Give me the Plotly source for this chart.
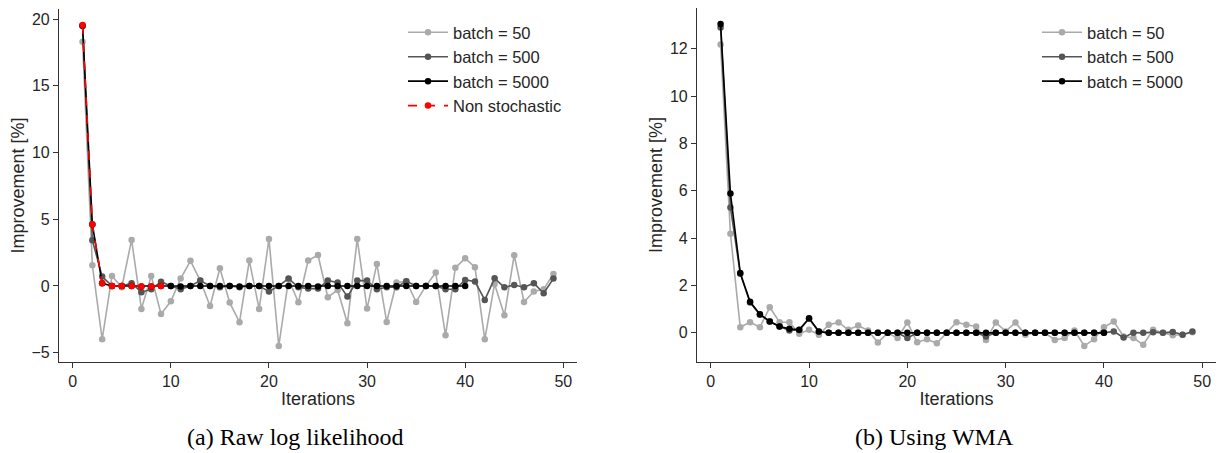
import plotly.graph_objects as go

# iterations
it_49 = list(range(1, 50))
it_40 = list(range(1, 41))
it_9 = list(range(1, 10))

# (a) raw log likelihood improvement [%]
raw_b50 = [18.3, 1.55, -4.0, 0.75, -0.1, 3.45, -1.72, 0.75, -2.1, -1.15,
           0.55, 1.88, 0.4, -1.5, 1.32, -1.25, -2.72, 1.9, -1.72, 3.52,
           -4.5, 0.5, -1.22, 1.9, 2.32, -0.85, -0.3, -2.8, 3.52, -1.7,
           1.65, -2.7, 0.25, 0.35, -1.2, 0.0, 1.0, -3.7, 1.37, 2.07,
           1.4, -4.0, 0.15, -2.2, 2.3, -1.2, -0.42, -0.25, 0.9]
raw_b500 = [19.5, 3.42, 0.7, 0.0, 0.0, 0.2, -0.47, -0.25, 0.32, 0.0,
            -0.25, 0.0, 0.4, 0.0, -0.1, 0.0, -0.1, 0.0, 0.0, -0.42,
            0.0, 0.55, -0.1, -0.2, -0.2, 0.4, 0.25, -0.8, 0.4, 0.4,
            -0.25, -0.1, -0.1, 0.35, 0.0, 0.0, 0.0, -0.25, -0.25, 0.45,
            0.33, -1.05, 0.57, -0.1, 0.07, -0.1, 0.2, -0.55, 0.55]
raw_b5000 = [19.5, 4.6, 0.2, 0.0, 0.0, 0.0, -0.05, -0.05, 0.0, 0.0,
             -0.05, 0.0, 0.0, 0.0, 0.0, 0.0, -0.05, 0.0, 0.0, 0.0,
             0.0, 0.0, 0.0, 0.0, -0.05, 0.0, 0.0, 0.0, 0.0, 0.0,
             0.0, 0.0, 0.0, 0.0, 0.0, 0.0, 0.0, 0.0, 0.0, 0.0]
raw_nonstoch = [19.55, 4.62, 0.2, 0.0, 0.0, 0.0, -0.05, -0.05, 0.0]

# (b) WMA improvement [%]
wma_b50 = [12.18, 4.19, 0.24, 0.45, 0.24, 1.08, 0.45, 0.45, -0.04, 0.13,
           -0.08, 0.34, 0.44, 0.13, 0.31, 0.1, -0.41, 0.0, -0.22, 0.44,
           -0.4, -0.27, -0.44, 0.0, 0.45, 0.34, 0.27, -0.3, 0.44, 0.06,
           0.44, -0.08, 0.0, 0.0, -0.3, -0.22, 0.1, -0.55, -0.27, 0.24,
           0.48, -0.15, -0.22, -0.5, 0.13, 0.0, -0.1, -0.08, 0.03]
wma_b500 = [12.9, 5.3, 2.5, 1.28, 0.77, 0.48, 0.27, 0.1, 0.12, 0.6,
            0.05, 0.0, 0.0, 0.0, 0.0, 0.0, 0.0, 0.0, 0.0, -0.22,
            0.0, 0.0, 0.0, 0.0, 0.0, 0.0, 0.0, -0.15, 0.0, 0.0,
            0.0, 0.0, 0.0, 0.0, 0.0, 0.0, 0.0, 0.0, 0.0, 0.0,
            0.06, -0.2, 0.01, 0.0, 0.03, 0.0, 0.04, -0.08, 0.06]
wma_b5000 = [13.04, 5.89, 2.53, 1.31, 0.79, 0.48, 0.27, 0.17, 0.13, 0.62,
             0.06, 0.0, 0.0, 0.0, 0.0, 0.0, 0.0, 0.0, 0.0, 0.0,
             0.0, 0.0, 0.0, 0.0, 0.0, 0.0, 0.0, 0.0, 0.0, 0.0,
             0.0, 0.0, 0.0, 0.0, 0.0, 0.0, 0.0, 0.0, 0.0, 0.0]

light = "#aaaaaa"
dark = "#555555"

W, H = 1228, 453
OFF = 8  # page body margin offsets the figure by 8px


def fx(px):
    return (px - OFF) / W


def fy(py):
    return (H - (py - OFF)) / H


fig = go.Figure()


def add(x, y, name, color, xa, ya, leg, dash="solid"):
    fig.add_trace(go.Scatter(
        x=x, y=y, name=name, mode="lines+markers",
        line=dict(color=color, width=1.6, dash=dash),
        marker=dict(color=color, size=6.5),
        xaxis=xa, yaxis=ya, legend=leg,
    ))


add(it_49, raw_b50, "batch = 50", light, "x", "y", "legend")
add(it_49, raw_b500, "batch = 500", dark, "x", "y", "legend")
add(it_40, raw_b5000, "batch = 5000", "black", "x", "y", "legend")
add(it_9, raw_nonstoch, "Non stochastic", "red", "x", "y", "legend", dash="dash")

add(it_49, wma_b50, "batch = 50", light, "x2", "y2", "legend2")
add(it_49, wma_b500, "batch = 500", dark, "x2", "y2", "legend2")
add(it_40, wma_b5000, "batch = 5000", "black", "x2", "y2", "legend2")

tickfont = dict(family="Liberation Sans, Arial", size=16, color="#262626")
axis_common = dict(
    showline=True, linecolor="#333333", linewidth=1.2,
    ticks="outside", ticklen=5, tickcolor="#333333", tickwidth=1.2,
    showgrid=False, zeroline=False, tickfont=tickfont, automargin=False,
    title_font=dict(family="Liberation Sans, Arial", size=18, color="#262626"),
)
xticks = dict(tickvals=[0, 10, 20, 30, 40, 50], range=[-1.4, 51.4],
              title=dict(text="Iterations", standoff=3))

legend_common = dict(
    font=dict(family="Liberation Sans, Arial", size=16.5, color="#262626"),
    bgcolor="rgba(0,0,0,0)", yanchor="top", xanchor="left",
    tracegroupgap=0, itemwidth=40,
)

cap_font = dict(family="Liberation Serif, Times New Roman", size=24, color="black")

fig.update_layout(
    width=W, height=H,
    margin=dict(l=0, r=0, t=0, b=0),
    plot_bgcolor="white", paper_bgcolor="white",
    xaxis=dict(domain=[fx(59), fx(577)], anchor="y", **xticks, **axis_common),
    yaxis=dict(domain=[fy(362), fy(9)], range=[-5.7, 20.75], tickvals=[-5, 0, 5, 10, 15, 20],
               title=dict(text="Improvement [%]", standoff=2), anchor="x", **axis_common),
    xaxis2=dict(domain=[fx(697), fx(1216)], anchor="y2", **xticks, **axis_common),
    yaxis2=dict(domain=[fy(362), fy(8)], range=[-1.23, 13.72], tickvals=[0, 2, 4, 6, 8, 10, 12],
                title=dict(text="Improvement [%]", standoff=2), anchor="x2", **axis_common),
    legend=dict(x=fx(403), y=fy(15), **legend_common),
    legend2=dict(x=fx(1037), y=fy(15), **legend_common),
    annotations=[
        dict(text="(a) Raw log likelihood", x=fx(295), y=fy(437), xref="paper", yref="paper",
             xanchor="center", yanchor="middle", showarrow=False, font=cap_font),
        dict(text="(b) Using WMA", x=fx(934), y=fy(437), xref="paper", yref="paper",
             xanchor="center", yanchor="middle", showarrow=False, font=cap_font),
    ],
)

fig.write_html("out.html")
